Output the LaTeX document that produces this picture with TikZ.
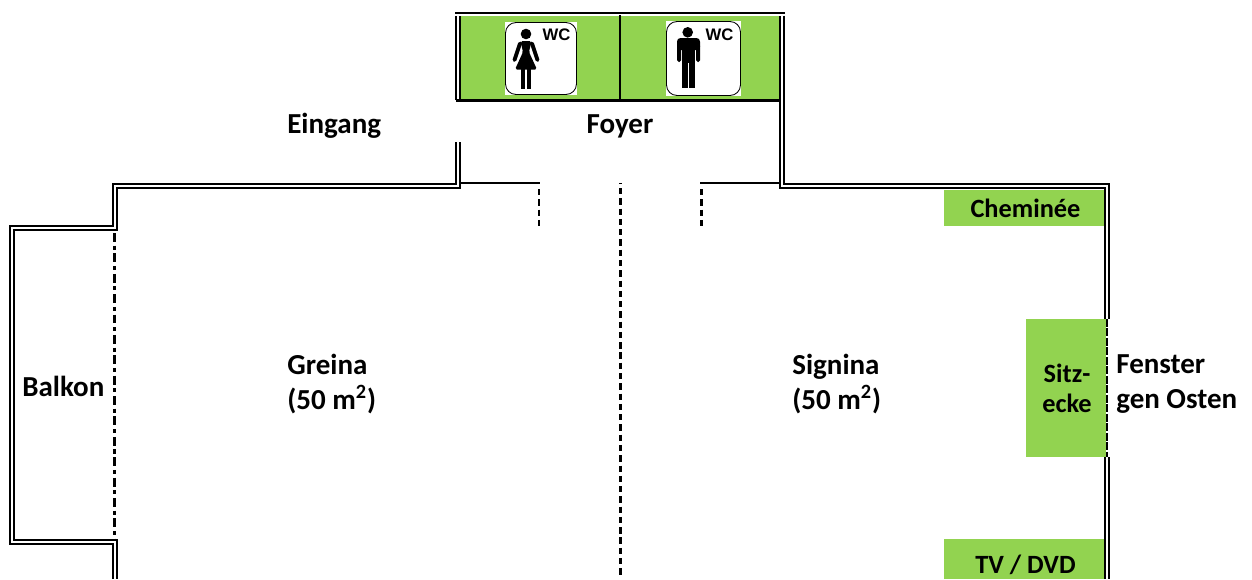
\documentclass[tikz,border=0pt]{standalone}
\usepackage{fontspec}
\setmainfont{Carlito}
\newfontfamily\wcfont{Liberation Sans}
\definecolor{roomgreen}{HTML}{92D350}
\tikzset{
  wall/.style={line width=1.05pt,double,double distance=1.35pt,line join=miter},
  thinwall/.style={line width=1.15pt},
  partition/.style={line width=1.7pt,dash pattern=on 3.6pt off 2.25pt},
  balconyline/.style={line width=1.6pt,dash pattern=on 5.1pt off 2.1pt on 2.3pt off 2.1pt},
  windowline/.style={line width=1.05pt,dash pattern=on 4.4pt off 1pt},
  furniture/.style={fill=roomgreen,draw=none},
  roomlabel/.style={font=\bfseries\fontsize{16.5}{20.4}\selectfont,inner sep=0pt,align=left},
  smalllabel/.style={font=\bfseries\fontsize{15}{17}\selectfont,inner sep=0pt,align=center},
  iconbox/.style={draw=black,fill=white,line width=.5pt,rounded corners=6pt},
  wclabel/.style={font=\wcfont\bfseries\fontsize{9.5}{10}\selectfont,inner sep=0pt}
}
\begin{document}
\begin{tikzpicture}[x=0.02cm,y=-0.02cm]
  \useasboundingbox (0,0) rectangle (1252,579);
  % green areas
  \fill[furniture] (460,15.7) rectangle (780,100);
  \fill[furniture] (944,190) rectangle (1104.5,225.5);
  \fill[furniture] (1026,319) rectangle (1106,457);
  \fill[furniture] (944,539) rectangle (1104.5,579);
  % walls
  \draw[thinwall] (455,13) -- (785,13);
  \draw[wall] (458,100) -- (458,15.5);
  \draw[wall] (782.3,15.5) -- (782.3,186) -- (1107,186) -- (1107,319);
  \draw[wall] (1107,457) -- (1107,579);
  \draw[wall] (458,142) -- (458,186) -- (115,186) -- (115,228) -- (12,228) -- (12,542) -- (115,542) -- (115,579);
  \draw[thinwall] (456,100.5) -- (780,100.5);
  \draw[thinwall] (620,15) -- (620,100);
  \draw[thinwall] (460,183.4) -- (540,183.4);
  \draw[thinwall] (700,183.4) -- (780,183.4);
  % dashed lines
  \draw[partition,line width=.95pt] (539,189) -- (539,226);
  \draw[partition,dash phase=3pt] (620.5,183) -- (620.5,575);
  \draw[partition] (701.7,189) -- (701.7,226);
  \draw[balconyline] (114.5,233) -- (114.5,539);
  \draw[windowline] (1106.8,319) -- (1106.8,457);
  % left WC
  \fill[white] (505,22) rectangle (577,95);
  \draw[iconbox] (505.5,22.5) rectangle (576.5,94.5);
  \fill (526,34) circle (5.3);
  \fill[rounded corners=1pt] (520.5,41) -- (531.5,41) -- (529,52) -- (537,69.5) -- (515,69.5) -- (523,52) -- cycle;
  \draw[line width=2.2pt,line cap=round] (520,43.5) -- (514.5,60);
  \draw[line width=2.2pt,line cap=round] (532,43.5) -- (537.5,60);
  \fill (521,69) rectangle (525.3,89);
  \fill (526.7,69) rectangle (531,89);
  \node[wclabel] (wcleft) at (556.5,35) {WC};
  % right WC
  \fill[white] (666,21) rectangle (741,96);
  \draw[iconbox] (666.5,21.5) rectangle (740.5,95.5);
  \fill (687.7,32.3) circle (5.3);
  \fill[rounded corners=2pt] (677,38) rectangle (700,50);
  \fill[rounded corners=1pt] (677,44) rectangle (681,62);
  \fill[rounded corners=1pt] (696,44) rectangle (700,62);
  \fill (682.3,44) rectangle (695,63);
  \fill (682.3,62) rectangle (688,88);
  \fill (689.4,62) rectangle (695,88);
  \node[wclabel] (wcright) at (719.5,34.5) {WC};
  % labels
  \node[roomlabel,anchor=west] (eingang) at (287,126) {Eingang};
  \node[roomlabel] (foyer) at (620,126) {Foyer};
  \node[roomlabel,anchor=west] (greina) at (287,384) {Greina\\(50 m\textsuperscript{2})};
  \node[roomlabel,anchor=west] (signina) at (792,384) {Signina\\(50 m\textsuperscript{2})};
  \node[roomlabel,anchor=west] (balkon) at (22,386) {Balkon};
  \node[roomlabel,anchor=west] (fenster) at (1116,384) {Fenster\\gen Osten};
  \node[smalllabel] (sitz) at (1067,388) {Sitz-\\ecke};
  \node[smalllabel] (kamin) at (1025.5,208) {Chemin\'ee};
  \node[smalllabel] (tv) at (1025.5,565) {TV / DVD};
\end{tikzpicture}
\end{document}
